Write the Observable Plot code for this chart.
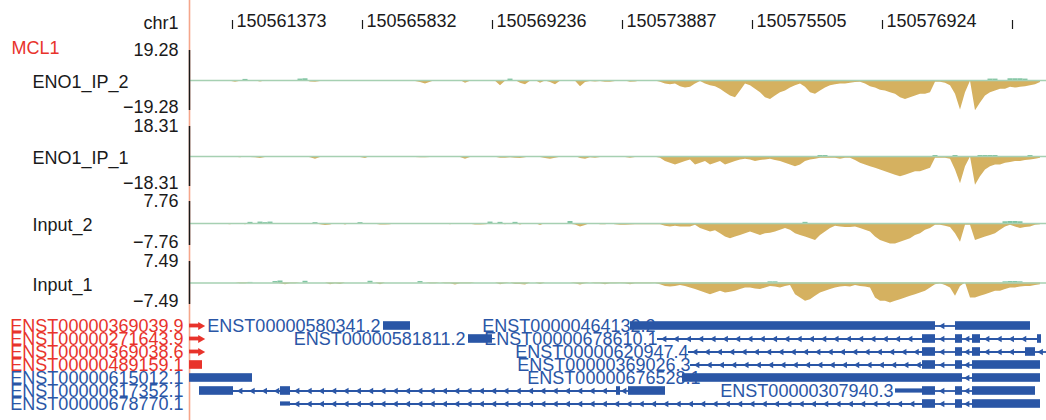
<!DOCTYPE html>
<html><head><meta charset="utf-8">
<script src="https://cdn.jsdelivr.net/npm/d3@7"></script>
<script src="https://cdn.jsdelivr.net/npm/@observablehq/plot@0.6"></script>
<style>
body{margin:0;background:#fff;}
#chart{position:relative;width:1046px;height:420px;overflow:hidden;font-family:"Liberation Sans",Arial,Helvetica,sans-serif;}
#chart > div{position:absolute;left:0;}
#chart svg{overflow:visible;}
</style></head><body><div id="chart"></div>
<script>
// ---------- DATA ----------
const chromosome = "chr1";
const geneName = "MCL1";
const tickPositions = [43, 173, 303, 433, 563, 693, 823];
const tickLabels = ["150561373", "150565832", "150569236", "150573887", "150575505", "150576924", ""];

const trackNames = ["ENO1_IP_2", "ENO1_IP_1", "Input_2", "Input_1"];
const trackLimits = [19.28, 18.31, 7.76, 7.49];
const binStart = 1, binWidth = 5;

const eno1Ip2 = [0,0,0,-0.5,-0.7,-0.5,0,0,-0.5,-1.1,
-0.5,0,0,-0.3,-0.9,-0.3,-0.5,0,0,0,
-0.3,-0.7,0,0,-0.9,-1.1,-0.7,0,0,-0.7,
0,-0.5,0,0,-0.3,-0.7,-0.3,0,-0.5,-0.7,
-0.3,0,0,0,0,-0.7,-1.3,-2.2,-1.1,0,
0,-0.5,0,-0.5,0,-1.8,-0.5,0,0,-0.7,
-0.7,-0.5,-3.3,-0.5,0,0,-1.8,-2.7,-0.5,0,
-1.8,-0.3,-1.3,-2.7,-0.5,-0.5,0,-0.5,-4.0,-1.3,
-0.7,-0.9,
-0.7,-1.1,-1.1,-0.7,-0.7,-0.4,-1.1,-0.9,-0.4,-0.4,
-0.4,-0.4,-1.1,-2.2,-2.7,-2.2,-4.0,-4.9,-4.4,-2.2,
-0.7,-2.2,-3.3,-4.0,-5.6,-7.8,-10.0,-11.1,-6.7,-2.2,
-3.3,-5.6,-7.8,-11.1,-12.2,-10.0,-7.8,-6.7,-4.9,-3.3,
-2.2,-4.4,-7.8,-8.9,-6.7,-4.9,-3.3,-2.7,-2.2,-2.2,
-1.8,-1.3,-1.1,-2.2,-4.0,-4.9,-6.2,-6.7,-7.8,-8.9,
-11.1,-12.2,-11.1,-10.0,-8.9,-8.9,-7.8,-1.1,-1.1,-1.8,
-3.3,-8.9,-18.9,-7.8,-0.5,-19.5,-14.4,-10.0,-7.8,-6.7,
-5.6,-5.6,-4.4,-4.9,-4.4,-4.0,-3.3,-2.7,-1.3];

const eno1Ip1 = [0,0,0,0,0,-0.4,-0.6,-0.3,0,-0.4,
-0.8,-0.3,-0.6,-0.8,-1.2,-0.6,0,0,0,0,
-0.4,-0.6,-0.3,0,-0.8,-1.7,-0.6,0,-0.4,-0.6,
-0.4,0,0,0,-0.6,-1.2,0,-0.4,-0.6,-0.4,
0,0,-0.4,-0.6,-0.4,-0.6,-0.8,-0.8,-0.6,0,
0,-0.4,-0.4,0,-0.6,-1.7,-0.6,0,0,0,
0,-0.4,-1.0,-1.0,-0.8,-1.0,-1.2,-0.8,0,0,
-0.6,-1.2,-1.7,-1.0,-0.4,-0.6,0,0,-1.2,-1.7,
-0.8,-1.0,
-0.6,-0.6,-0.6,-0.4,-0.4,-0.6,-1.0,-0.6,-0.4,-0.4,
-0.4,-0.4,-1.0,-3.1,-4.1,-5.2,-4.1,-3.1,-2.1,-5.2,
-4.1,-3.1,-5.2,-4.1,-3.1,-5.2,-4.1,-3.1,-2.1,-1.7,
-2.1,-3.1,-2.5,-2.1,-1.7,-2.5,-3.1,-4.1,-5.2,-6.2,
-5.2,-3.1,-2.1,-1.7,-1.0,-1.0,-1.0,-1.0,-1.7,-1.0,
-1.0,-2.5,-4.1,-5.2,-6.2,-7.2,-8.3,-9.3,-10.4,-11.4,
-12.4,-11.4,-10.4,-9.3,-9.3,-8.3,-7.2,-1.0,-1.0,-1.0,
-1.7,-8.3,-16.6,-6.2,-0.3,-17.6,-12.4,-8.3,-6.2,-5.2,
-5.2,-4.1,-3.7,-3.1,-3.1,-2.5,-2.1,-1.7,-1.0];

const input2 = [0,0,0,0,0,0,0,-0.3,-0.4,0,
0,-0.4,0,0,0,0,0,0,0,0,
0,0,-0.3,0,0,0,-0.4,-0.7,-0.5,0,
0,-0.5,0,0,0,0,0,-0.3,-0.5,-0.5,
-0.4,0,0,0,0,0,0,0,0,0,
0,0,-0.4,0,0,0,-0.3,-0.5,-0.5,-0.4,
-0.3,0,0,-0.4,0,0,-0.5,0,0,0,
-0.7,0,0,0,-0.3,0,-0.3,-0.5,-1.2,-0.7,
0,0,
-0.4,-0.4,-0.2,-0.4,-0.6,-0.6,-0.5,-0.4,-0.4,-0.4,
-0.4,-0.4,-0.4,-1.0,-1.2,-1.0,-1.2,-1.2,-1.2,-0.6,
-1.8,-2.4,-3.0,-2.6,-3.6,-4.8,-5.4,-4.8,-4.2,-3.6,
-3.0,-3.6,-4.2,-3.6,-3.4,-3.0,-2.4,-1.8,-2.4,-3.6,
-4.2,-4.8,-5.4,-6.0,-4.2,-3.0,-1.8,-1.0,-1.2,-1.4,
-1.4,-1.2,-1.8,-2.4,-3.0,-4.8,-6.0,-6.6,-7.2,-7.2,
-6.6,-6.0,-5.4,-4.2,-3.6,-2.4,-1.8,-0.6,-0.6,-1.0,
-1.4,-3.6,-6.6,-0.6,-0.6,-6.0,-5.4,-4.8,-4.2,-3.6,
-2.4,-1.2,-0.6,-1.2,-1.8,-1.4,-1.2,-0.6,-0.4];

const input1 = [0,0,0,0,0,0,0,0,0,0,
-0.3,-0.3,0,0,0,0,0,0,-0.3,-0.6,
-0.3,-0.3,0,0,0,0,0,0,-0.6,-0.3,
-0.5,0,0,0,0,0,0,0,-0.6,0,
0,0,0,0,0,0,0,0,-0.3,-0.3,
0,-0.3,-0.3,-0.7,-0.3,-0.3,-0.3,0,0,0,
0,0,-0.6,-0.3,0,-0.5,-0.5,-0.7,0,0,
-0.5,0,0,0,0,0,0,-0.3,-0.7,-0.3,
0,-0.3,
-0.3,-0.6,-0.3,-0.3,-0.2,-0.3,-0.6,-0.3,-0.3,-0.3,
-0.3,-0.2,-0.6,-1.2,-1.4,-1.2,-0.9,-1.2,-1.7,-2.3,
-2.9,-3.5,-4.1,-3.5,-2.9,-3.5,-3.2,-2.9,-2.3,-1.7,
-1.7,-2.1,-2.3,-1.7,-1.2,-1.4,-1.7,-1.2,-0.9,-4.1,
-5.2,-6.4,-5.8,-4.6,-3.5,-2.9,-2.3,-1.7,-1.4,-1.2,
-1.4,-0.9,-1.2,-1.4,-1.7,-5.2,-6.4,-6.4,-7.0,-6.4,
-5.8,-5.2,-4.6,-4.1,-3.5,-2.9,-1.7,-0.6,-0.3,-0.9,
-1.7,-4.6,-1.2,0,-5.2,-5.2,-4.6,-4.1,-3.5,-2.9,
-2.9,-2.3,-1.7,-1.7,-1.4,-1.2,-1.2,-0.9,-0.6];

// positive (forward) signal: [position, value]
const eno1Ip2Pos = [[56,0.7],[111,0.9],[116,1.1],[321,0.9],[801,0.9],[806,0.9],[821,1.1],[826,1.1],[831,1.1],[836,0.9]];
const eno1Ip1Pos = [[631,0.6],[636,0.6],[746,0.6],[766,0.6],[791,0.6],[796,0.6],[801,0.6],[806,0.6],[841,0.6]];
const input2Pos = [[61,0.4],[71,0.5],[76,0.3],[81,0.5],[126,0.3],[171,0.3],[301,0.5],[311,0.4],[326,0.4],[381,0.7],[616,0.4],[816,0.6],[821,0.7],[826,0.7],[831,0.6]];
const input1Pos = [[61,0.2],[86,0.5],[91,0.7],[116,0.6],[181,0.6],[231,0.5],[581,0.4],[586,0.4],[816,0.4],[821,0.5],[826,0.5],[831,0.4]];

// transcripts
const leftTranscripts = ["ENST00000369039.9","ENST00000271643.9","ENST00000369038.6","ENST00000489159.1","ENST00000615012.1","ENST00000617352.1","ENST00000678770.1"];
const leftIsMCL1 = [true, true, true, true, false, false, false];
const innerLabels = [
  {row:0, name:"ENST00000580341.2", at:191},
  {row:0, name:"ENST00000464132.2", at:466},
  {row:1, name:"ENST00000581811.2", at:276},
  {row:1, name:"ENST00000678610.1", at:468},
  {row:2, name:"ENST00000620947.4", at:499},
  {row:3, name:"ENST00000369026.3", at:501},
  {row:4, name:"ENST00000676528.1", at:511},
  {row:5, name:"ENST00000307940.3", at:704}
];
const exons = [
  {row:0,x1:0,x2:11,kind:"arrow",mcl1:true},
  {row:0,x1:194,x2:221,kind:"cds"},{row:0,x1:441,x2:746,kind:"cds"},{row:0,x1:766,x2:841,kind:"cds"},
  {row:1,x1:0,x2:11,kind:"arrow",mcl1:true},
  {row:1,x1:279,x2:303,kind:"cds"},{row:1,x1:733,x2:746,kind:"cds"},{row:1,x1:766,x2:773,kind:"cds"},{row:1,x1:783,x2:791,kind:"cds"},{row:1,x1:848,x2:852,kind:"cds"},
  {row:2,x1:0,x2:11,kind:"arrow",mcl1:true},
  {row:2,x1:733,x2:746,kind:"cds"},{row:2,x1:766,x2:773,kind:"cds"},{row:2,x1:783,x2:791,kind:"cds"},{row:2,x1:836,x2:846,kind:"cds"},
  {row:3,x1:0,x2:13,kind:"cds",mcl1:true},
  {row:3,x1:733,x2:746,kind:"cds"},{row:3,x1:766,x2:773,kind:"cds"},{row:3,x1:783,x2:851,kind:"cds"},
  {row:4,x1:0,x2:63,kind:"cds"},{row:4,x1:493,x2:773,kind:"cds"},{row:4,x1:783,x2:851,kind:"cds"},
  {row:5,x1:10,x2:44,kind:"cds"},{row:5,x1:91,x2:101,kind:"cds"},{row:5,x1:427,x2:431,kind:"cds"},{row:5,x1:439,x2:476,kind:"cds"},
  {row:5,x1:706,x2:733,kind:"utr"},{row:5,x1:733,x2:746,kind:"cds"},{row:5,x1:766,x2:773,kind:"cds"},{row:5,x1:783,x2:846,kind:"cds"},
  {row:6,x1:91,x2:101,kind:"utr"},{row:6,x1:733,x2:746,kind:"cds"},{row:6,x1:766,x2:773,kind:"cds"},{row:6,x1:783,x2:851,kind:"cds"}
];
const introns = [
  {row:0,x1:746,x2:766},
  {row:1,x1:468,x2:733},{row:1,x1:746,x2:766},{row:1,x1:773,x2:783},{row:1,x1:791,x2:848},
  {row:2,x1:499,x2:733},{row:2,x1:746,x2:766},{row:2,x1:773,x2:783},{row:2,x1:791,x2:836},{row:2,x1:846,x2:857},
  {row:3,x1:501,x2:733},{row:3,x1:746,x2:766},{row:3,x1:773,x2:783},
  {row:4,x1:773,x2:783},
  {row:5,x1:44,x2:91},{row:5,x1:101,x2:427},{row:5,x1:431,x2:439},{row:5,x1:746,x2:766},{row:5,x1:773,x2:783},
  {row:6,x1:101,x2:733},{row:6,x1:746,x2:766},{row:6,x1:773,x2:783}
];

// ---------- STYLE / LAYOUT ----------
const W = 1046, ML = 189, XDOMAIN = [0, 857];
const FONT = '"Liberation Sans", Arial, Helvetica, sans-serif';
const GOLD = "#d5b160", GREEN = "#7fc4a2", ZERO = "#a6d0b2", BLUE = "#2a56a6", RED = "#e8332b", SALMON = "#f5a68b", INK = "#1a1a1a";
const baseStyle = {background: "transparent", overflow: "visible", fontFamily: FONT, fontSize: "18px", color: INK};
const chart = document.getElementById("chart");
function place(svg, top) {
  const d = document.createElement("div");
  d.style.top = top + "px";
  d.appendChild(svg);
  chart.appendChild(d);
}
const fmt = v => (v < 0 ? "\u2212" : "") + Math.abs(v).toFixed(2);

// background: salmon guide line + gene name
place(Plot.plot({
  width: W, height: 420, marginLeft: ML, marginRight: 0, marginTop: 0, marginBottom: 0,
  x: {domain: XDOMAIN, axis: null},
  style: baseStyle,
  marks: [
    Plot.ruleX([0], {stroke: SALMON, strokeWidth: 1.6}),
    Plot.text([geneName], {frameAnchor: "top-left", dx: -178, dy: 41, textAnchor: "start", fill: RED, fontSize: 18})
  ]
}), 0);

// header ruler
place(Plot.plot({
  width: W, height: 40, marginLeft: ML, marginRight: 0, marginTop: 20, marginBottom: 11,
  x: {domain: XDOMAIN, axis: null},
  style: baseStyle,
  marks: [
    Plot.tickX(tickPositions, {x: d => d, stroke: INK, strokeWidth: 1.2}),
    Plot.text(tickPositions, {x: d => d, text: (d, i) => tickLabels[i], textAnchor: "start", dx: 4, dy: -4, fill: INK, fontSize: 18}),
    Plot.text([chromosome], {x: () => 0, textAnchor: "end", dx: -11, dy: -2, fill: INK, fontSize: 18})
  ]
}), 0);

// signal tracks
const trackValues = [eno1Ip2, eno1Ip1, input2, input1];
const trackPos = [eno1Ip2Pos, eno1Ip1Pos, input2Pos, input1Pos];
const trackLayout = [{top: 50, h: 60}, {top: 126, h: 60}, {top: 201, h: 44}, {top: 261, h: 43}];
trackNames.forEach((name, k) => {
  const lim = trackLimits[k];
  const series = trackValues[k].map((v, i) => ({x: binStart + i * binWidth, v}));
  const L = trackLayout[k];
  place(Plot.plot({
    width: W, height: L.h, marginLeft: ML, marginRight: 0, marginTop: 0, marginBottom: 0,
    x: {domain: XDOMAIN, axis: null},
    y: {domain: [-lim, lim], axis: null},
    style: baseStyle,
    marks: [
      Plot.areaY(series, {x: "x", y: "v", fill: GOLD}),
      Plot.rect(trackPos[k], {x1: d => d[0] - 2.5, x2: d => d[0] + 2.5, y1: () => 0, y2: d => d[1], fill: GREEN}),
      Plot.ruleY([0], {stroke: ZERO, strokeWidth: 1.6}),
      Plot.ruleX([0], {y1: -lim, y2: lim, stroke: INK, strokeWidth: 1.5}),
      Plot.text([lim], {x: () => 0, y: d => d, text: fmt, textAnchor: "end", dx: -11, dy: 0, fill: INK, fontSize: 18}),
      Plot.text([-lim], {x: () => 0, y: d => d, text: fmt, textAnchor: "end", dx: -11, dy: -3, fill: INK, fontSize: 18}),
      Plot.text([name], {frameAnchor: "left", dx: -157, dy: 2, textAnchor: "start", fill: INK, fontSize: 18})
    ]
  }), L.top);
});

// gene annotation
const chevrons = introns.flatMap(d => {
  const len = d.x2 - d.x1;
  if (len < 16) return [{row: d.row, x: (d.x1 + d.x2) / 2}];
  return d3.range(d.x1 + 7, d.x2 - 3, 12.3).map(x => ({row: d.row, x}));
});
const exonColor = d => d.mcl1 ? RED : BLUE;
place(Plot.plot({
  width: W, height: 110, marginLeft: ML, marginRight: 0, marginTop: 7.8, marginBottom: 8.3,
  x: {domain: XDOMAIN, axis: null},
  y: {type: "band", domain: d3.range(7), padding: 0, axis: null},
  color: {type: "identity"},
  style: baseStyle,
  marks: [
    Plot.text(leftTranscripts, {x: () => 0, y: (d, i) => i, text: d => d, textAnchor: "end", dx: -6, fill: (d, i) => leftIsMCL1[i] ? RED : BLUE, fontSize: 18}),
    Plot.text(innerLabels, {x: "at", y: "row", text: "name", textAnchor: "end", fill: BLUE, fontSize: 18}),
    Plot.ruleY(introns, {y: "row", x1: "x1", x2: "x2", stroke: BLUE, strokeWidth: 1.8}),
    Plot.dot(chevrons, {x: "x", y: "row", symbol: "triangle", rotate: -90, r: 2.4, fill: BLUE}),
    Plot.barX(exons.filter(d => d.kind === "cds"), {x1: "x1", x2: "x2", y: "row", insetTop: 2.2, insetBottom: 2.2, fill: exonColor}),
    Plot.barX(exons.filter(d => d.kind === "utr"), {x1: "x1", x2: "x2", y: "row", insetTop: 4.4, insetBottom: 4.4, fill: BLUE}),
    Plot.barX(exons.filter(d => d.kind === "arrow"), {x1: "x1", x2: "x2", y: "row", insetTop: 4.6, insetBottom: 4.6, fill: exonColor}),
    Plot.dot(exons.filter(d => d.kind === "arrow"), {x: "x2", y: "row", symbol: "triangle", rotate: 90, r: 3, fill: exonColor})
  ]
}), 310);
</script></body></html>
